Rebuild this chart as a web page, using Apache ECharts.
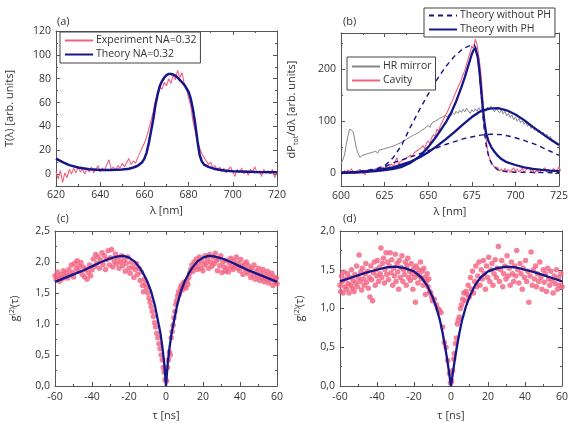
<!DOCTYPE html>
<html><head><meta charset="utf-8">
<script src="https://cdn.jsdelivr.net/npm/echarts@6/dist/echarts.min.js"></script>
<style>html,body{margin:0;padding:0;background:#fff}#c{width:571px;height:423px}</style>
</head><body><div id="c"></div>
<script>
// ---------- Panel (a): transmission ----------
const aExpStart = 620; // nm, 1 nm steps
const aExpValues = [2,-4,3,-7,1,-3,4,0,5,1,6,2,4,0,5,2,6,1,4,7,2,5,3,8,12,4,6,3,7,5,9,6,10,13,8,11,9,14,18,22,26,31,38,45,52,62,67,73,71,77,74,80,76,83,79,87,81,85,76,72,64,57,44,36,27,22,17,14,11,8,10,5,7,3,6,2,5,1,4,6,2,-2,4,1,5,0,3,-1,4,2,6,1,3,-2,4,1,3,0,4,-3,2];
const aTheory = [[620,13],[623,10],[626,7.5],[630,5.5],[635,4],[640,3.5],[645,3.4],[650,3.8],[653,4.5],[655,5.5],[657,7],[659,10],[660,13],[661,18],[662,26],[663,36],[664,46],[665,58],[666,67],[667,74],[668,78],[669,81],[670,83],[671,84],[672,84],[673,83.5],[674,82.5],[675,81],[676,79],[677,77],[678,75],[679,72],[680,69],[681,63],[682,54],[683,42],[684,28],[685,16],[686,10.5],[687,8],[689,6],[692,4.2],[696,3],[700,2.4],[710,1.8],[720,1.5]];
const aXTicks = [620,640,660,680,700,720], aXMinor = [630,650,670,690,710];
const aYTicks = [0,20,40,60,80,100,120], aYMinor = [-10,10,30,50,70,90,110];

// ---------- Panel (b): emission spectra ----------
const bStart = 600; // nm, 1 nm steps
const bMirror = [18,25,35,55,72,85,88,80,62,45,36,30,34,31,36,33,38,35,40,37,42,38,44,41,46,43,48,45,50,47,52,49,55,52,58,56,62,59,66,63,70,67,74,71,77,75,82,79,86,84,92,88,96,93,100,97,104,101,108,105,111,107,114,110,117,113,119,115,121,117,123,118,125,120,115,122,118,124,119,126,121,117,124,119,127,122,129,123,118,125,120,116,122,114,119,110,115,107,112,103,108,100,105,97,101,94,98,90,94,86,90,82,86,78,82,75,79,71,75,67,71,63,66,59,61,55];
const bCavity = [3,-2,5,1,6,2,8,3,-1,5,2,7,1,4,-3,6,2,8,3,5,9,4,10,6,12,7,14,9,13,18,12,20,30,16,22,19,26,23,30,27,35,31,39,36,44,41,49,53,47,58,62,57,68,74,70,85,80,92,98,105,112,118,126,134,140,150,157,165,172,180,190,198,210,222,232,245,240,258,248,225,200,160,110,70,45,30,22,16,12,9,10,4,8,2,9,3,7,1,6,10,3,8,2,5,9,0,6,3,11,2,7,-1,5,8,1,6,3,10,2,7,0,5,9,2,6,12,4];
const bWithPHnarrow = [[600,0.5],[610,1.5],[620,3.5],[625,5.5],[630,8],[635,12],[640,20],[645,32],[650,50],[655,72],[660,97],[663,115],[666,138],[669,165],[671,185],[673,207],[675,229],[676,237],[677,241],[677.8,238],[678.5,222],[679.5,193],[680.5,155],[681.4,122],[682.3,97],[683.2,77],[684.5,62],[686,51],[688,41],[690,33],[692,27],[695,21],[700,15.5],[705,11],[710,8],[715,6],[720,4.5],[725,3.5]];
const bWithPHbroad = [[600,0.5],[610,2],[620,5],[630,11],[640,22],[645,30],[650,40],[655,52],[660,65],[665,79],[670,94],[675,108],[680,119],[685,124],[690,125],[695,121],[700,113],[705,102],[710,89],[715,77],[720,65],[725,54]];
const bNoPHnarrow = [[600,1],[610,3],[620,8],[625,14],[630,30],[635,55],[640,90],[645,122],[650,152],[655,180],[660,205],[665,225],[670,240],[674,246],[676.5,247],[677.5,240],[678.5,222],[679.5,190],[680.5,148],[681.5,105],[682.5,72],[683.5,48],[685,28],[687,14],[690,6],[695,2.5],[700,1.5],[725,0.5]];
const bNoPHbroad = [[600,0.5],[610,2],[620,6],[625,12],[630,20],[640,31],[650,43],[660,55],[670,66],[680,73],[686,75],[692,74],[698,70],[704,64],[710,57],[715,50],[720,42],[725,34]];
const bXTicks = [600,625,650,675,700,725], bXMinor = [612.5,637.5,662.5,687.5,712.5];
const bYTicks = [0,100,200], bYMinor = [50,150,250];

// ---------- Panel (c): g2 cavity ----------
const cPoints = [[-60,1.78],[-59.3,1.72],[-58.7,1.84],[-58,1.75],[-57.5,1.69],[-56.8,1.8],[-56,1.73],[-55.4,1.86],[-54.7,1.77],[-54,1.82],[-53.3,1.74],[-52.5,1.88],[-52,1.79],[-51.2,1.95],[-50.5,1.83],[-50,1.76],[-49.3,1.98],[-48.6,1.9],[-48,2.02],[-47.4,1.85],[-46.8,1.93],[-46,1.99],[-45.3,1.8],[-44.7,1.92],[-44,1.76],[-43.4,1.88],[-42.6,1.72],[-42,1.83],[-41.3,1.95],[-40.7,1.78],[-40,1.87],[-39.3,2.05],[-38.6,1.93],[-38,2.12],[-37.4,1.98],[-36.7,2.08],[-36,1.9],[-35.3,2.03],[-34.6,2.15],[-34,1.96],[-33.3,2.1],[-32.7,1.88],[-32,2.04],[-31.3,2.18],[-30.6,1.95],[-30,2.07],[-29.4,2.2],[-28.7,1.92],[-28,2.01],[-27.3,2.13],[-26.7,1.97],[-26,2.06],[-25.4,1.9],[-24.7,2.0],[-24,2.1],[-23.4,1.94],[-22.7,2.03],[-22,1.85],[-21.4,1.98],[-20.7,2.08],[-20,1.9],[-19.4,1.82],[-18.7,2.0],[-18,1.92],[-17.4,1.75],[-16.7,1.88],[-16,1.97],[-15.4,1.8],[-14.7,1.9],[-14,1.7],[-13.4,1.84],[-12.7,1.62],[-12.2,1.52],[-11.6,1.72],[-11,1.65],[-10.4,1.58],[-9.8,1.5],[-9.2,1.42],[-8.6,1.35],[-8,1.28],[-7.4,1.2],[-6.8,1.12],[-6.2,1.02],[-5.6,0.95],[-5,0.85],[-4.4,0.78],[-3.8,0.68],[-3.2,0.6],[-2.6,0.5],[-2,0.42],[-1.5,0.3],[-1,0.22],[-0.5,0.1],
[0.3,0.08],[0.8,0.3],[1.3,0.42],[1.8,0.55],[2.3,0.5],[2.8,0.78],[3.3,0.88],[3.8,0.98],[4.3,1.1],[4.8,1.2],[5.3,1.32],[5.8,1.38],[6.3,1.45],[6.8,1.52],[7.3,1.48],[7.8,1.58],[8.3,1.62],[8.8,1.55],[9.3,1.66],[9.8,1.6],[10.3,1.68],[10.8,1.58],[11.3,1.7],[11.8,1.64],[12.3,1.75],[12.8,1.82],[13.4,1.88],[14,1.95],[14.6,1.85],[15.2,2.0],[15.8,1.92],[16.4,2.05],[17,1.88],[17.6,1.97],[18.2,2.08],[18.8,1.9],[19.4,2.02],[20,1.86],[20.6,1.95],[21.2,2.1],[21.8,1.98],[22.4,2.05],[23,1.9],[23.6,2.12],[24.2,2.0],[24.8,1.93],[25.4,2.08],[26,1.97],[26.6,2.14],[27.2,2.02],[27.8,1.86],[28.4,2.05],[29,1.94],[29.6,2.1],[30.2,1.83],[30.8,2.0],[31.4,1.92],[32,1.85],[32.6,2.03],[33.2,1.9],[33.8,1.84],[34.4,1.98],[35,2.06],[35.6,1.92],[36.2,1.88],[36.8,2.02],[37.4,1.95],[38,2.08],[38.6,1.9],[39.2,1.98],[39.8,1.86],[40.4,2.04],[41,1.93],[41.6,1.8],[42.2,1.96],[42.8,1.88],[43.4,2.0],[44,1.82],[44.6,1.94],[45.2,1.86],[45.8,1.75],[46.4,1.9],[47,1.8],[47.6,1.95],[48.2,1.72],[48.8,1.85],[49.4,1.78],[50,1.9],[50.6,1.7],[51.2,1.82],[51.8,1.75],[52.4,1.88],[53,1.68],[53.6,1.8],[54.2,1.73],[54.8,1.85],[55.4,1.66],[56,1.78],[56.6,1.71],[57.2,1.82],[57.8,1.62],[58.4,1.76],[59,1.68],[59.6,1.74],[60,1.65]];
const cTheory = [[-60,1.68],[-55,1.74],[-50,1.8],[-45,1.86],[-40,1.93],[-35,2.0],[-30,2.06],[-26,2.09],[-23,2.1],[-20,2.07],[-17,2.01],[-14,1.9],[-12,1.8],[-10,1.68],[-8,1.52],[-6,1.3],[-5,1.15],[-4,1.0],[-3,0.85],[-2,0.64],[-1,0.38],[-0.5,0.2],[0,0],[0.5,0.2],[1,0.38],[2,0.64],[3,0.85],[4,1.0],[5,1.15],[6,1.3],[8,1.52],[10,1.68],[12,1.8],[14,1.9],[17,2.01],[20,2.07],[23,2.1],[26,2.09],[30,2.06],[35,2.0],[40,1.93],[45,1.86],[50,1.8],[55,1.74],[60,1.68]];
const cXTicks = [-60,-40,-20,0,20,40,60], cXMinor = [-50,-30,-10,10,30,50];
const cYTicks = [0,0.5,1,1.5,2,2.5], cYMinor = [0.25,0.75,1.25,1.75,2.25];

// ---------- Panel (d): g2 second sample ----------
const dPoints = [[-60,1.3],[-59.6,1.22],[-59.2,1.42],[-58.8,1.35],[-58.3,1.2],[-57.9,1.47],[-57.4,1.28],[-57,1.38],[-56.5,1.25],[-56,1.45],[-55.6,1.32],[-55.1,1.2],[-54.7,1.4],[-54.2,1.3],[-53.8,1.5],[-53.3,1.26],[-52.9,1.36],[-52.4,1.22],[-52,1.44],[-51.5,1.33],[-51,1.55],[-50.6,1.28],[-50.1,1.4],[-49.7,1.69],[-49.2,1.35],[-48.8,1.47],[-48.3,1.24],[-47.9,1.52],[-47.4,1.38],[-47,1.3],[-46.5,1.45],[-46,1.58],[-45.6,1.34],[-45.1,1.48],[-44.7,1.26],[-44.2,1.4],[-43.8,1.15],[-43.3,1.55],[-42.9,1.37],[-42.4,1.1],[-42,1.46],[-41.5,1.6],[-41,1.3],[-40.6,1.5],[-40.1,1.42],[-39.7,1.62],[-39.2,1.35],[-38.8,1.53],[-38.3,1.45],[-37.9,1.78],[-37.4,1.4],[-37,1.58],[-36.5,1.65],[-36,1.33],[-35.6,1.5],[-35.1,1.72],[-34.7,1.44],[-34.2,1.6],[-33.8,1.37],[-33.3,1.55],[-32.9,1.72],[-32.4,1.46],[-32,1.63],[-31.5,1.3],[-31,1.52],[-30.6,1.42],[-30.1,1.7],[-29.7,1.35],[-29.2,1.58],[-28.8,1.47],[-28.3,1.25],[-27.9,1.62],[-27.4,1.4],[-27,1.53],[-26.5,1.68],[-26,1.35],[-25.6,1.5],[-25.1,1.44],[-24.7,1.6],[-24.2,1.3],[-23.8,1.55],[-23.3,1.65],[-22.9,1.4],[-22.4,1.48],[-22,1.36],[-21.5,1.58],[-21,1.45],[-20.6,1.25],[-20.1,1.52],[-19.7,1.4],[-19.2,1.08],[-18.8,1.55],[-18.3,1.45],[-17.9,1.33],[-17.4,1.5],[-17,1.42],[-16.5,1.6],[-16,1.38],[-15.6,1.48],[-15.1,1.3],[-14.7,1.52],[-14.2,1.4],[-13.8,1.18],[-13.3,1.35],[-12.9,1.45],[-12.4,1.28],[-12,1.38],[-11.5,1.22],[-11,1.2],[-10.4,1.15],[-10,1.1],[-9,1.12],[-8,1.05],[-7.2,1.0],[-6.3,0.98],[-5.4,0.95],[-4.5,0.76],[-3.6,0.56],[-2.7,0.5],[-1.8,0.33],[-0.9,0.16],[-0.3,0.04],
[0.3,0.06],[0.9,0.2],[1.5,0.35],[1.8,0.42],[2.4,0.55],[2.9,0.62],[3.4,0.8],[3.9,0.85],[4.5,0.89],[5.1,1.0],[5.7,1.05],[6.3,1.12],[6.9,1.2],[7.5,1.1],[8.1,1.22],[8.7,1.18],[9.3,1.3],[9.9,1.15],[10.5,1.4],[11,1.25],[11.6,1.48],[12.2,1.2],[12.8,1.35],[13.4,1.55],[14,1.28],[14.5,1.42],[15.1,1.6],[15.7,1.3],[16.3,1.5],[16.9,1.38],[17.5,1.62],[18,1.45],[18.6,1.25],[19.2,1.55],[19.8,1.4],[20.4,1.66],[21,1.35],[21.5,1.5],[22.1,1.58],[22.7,1.3],[23.3,1.45],[23.9,1.63],[24.5,1.4],[25,1.52],[25.6,1.8],[26.2,1.35],[26.8,1.5],[27.4,1.62],[28,1.28],[28.5,1.45],[29.1,1.55],[29.7,1.38],[30.3,1.68],[30.9,1.42],[31.5,1.52],[32,1.3],[32.6,1.6],[33.2,1.45],[33.8,1.35],[34.4,1.55],[35,1.42],[35.5,1.75],[36.1,1.5],[36.7,1.33],[37.3,1.58],[37.9,1.45],[38.5,1.25],[39.1,1.52],[39.7,1.4],[40.3,1.62],[40.9,1.35],[41.5,1.48],[42.1,1.08],[42.7,1.42],[43.3,1.73],[43.9,1.3],[44.5,1.5],[45.1,1.38],[45.7,1.55],[46.2,1.28],[46.8,1.45],[47.4,1.35],[48,1.6],[48.6,1.4],[49.2,1.25],[49.8,1.5],[50.4,1.34],[51,1.45],[51.6,1.22],[52.2,1.52],[52.8,1.38],[53.4,1.3],[54,1.48],[54.6,1.36],[55.2,1.2],[55.8,1.42],[56.4,1.32],[57,1.5],[57.6,1.25],[58.2,1.4],[58.8,1.3],[59.4,1.45],[60,1.28]];
const dTheory = [[-60,1.35],[-55,1.39],[-50,1.43],[-45,1.47],[-40,1.5],[-35,1.53],[-30,1.54],[-25,1.52],[-20,1.48],[-16,1.4],[-13,1.3],[-10,1.15],[-8,1.02],[-6,0.85],[-4.5,0.68],[-3,0.48],[-2,0.33],[-1,0.17],[-0.5,0.08],[0,0],[0.5,0.08],[1,0.17],[2,0.33],[3,0.48],[4.5,0.68],[6,0.85],[8,1.02],[10,1.15],[13,1.3],[16,1.4],[20,1.48],[25,1.52],[30,1.54],[35,1.53],[40,1.5],[45,1.47],[50,1.43],[55,1.39],[60,1.35]];
const dXTicks = cXTicks, dXMinor = cXMinor;
const dYTicks = [0,0.5,1,1.5,2], dYMinor = [0.25,0.75,1.25,1.75];

// ---------- styling ----------
const FONT = 'Open Sans';
const TXT = '#333';
const FRAME = '#555';
const PINK = '#f2607f';
const NAVY = '#15168a';
const GRAY = '#858585';

const grids = [
  {left:56, top:31, width:221, height:155},
  {left:341, top:33, width:221, height:153},
  {left:55, top:231, width:222, height:155},
  {left:340, top:231, width:223, height:155}
];

const xAxes = [], yAxes = [];
function addAxes(list, dim, gi, cfg) {
  const mainPos = dim === 'x' ? 'bottom' : 'left';
  const mirPos = dim === 'x' ? 'top' : 'right';
  const base = {type:'value', gridIndex:gi, min:cfg.min, max:cfg.max, splitLine:{show:false}};
  const mainIdx = list.length;
  const main = Object.assign({}, base, {
    position: mainPos,
    axisLine:{show:true, onZero:false, lineStyle:{color:FRAME, width:1}},
    axisTick:{show:true, inside:true, length:4, customValues:cfg.majors, lineStyle:{color:FRAME}},
    axisLabel:{show:true, customValues:cfg.majors, formatter:cfg.fmt, margin:cfg.margin,
      fontSize:10.5, color:TXT, fontFamily:FONT},
    name: cfg.name, nameLocation:'middle', nameGap: cfg.nameGap,
    nameRotate: dim === 'y' ? 90 : 0,
    nameTextStyle: Object.assign({fontSize:11, color:TXT, fontFamily:FONT}, cfg.nameStyle || {})
  });
  list.push(main);
  list.push(Object.assign({}, base, {
    position: mirPos,
    axisLine:{show:true, onZero:false, lineStyle:{color:FRAME, width:1}},
    axisTick:{show:true, inside:true, length:4, customValues:cfg.majors, lineStyle:{color:FRAME}},
    axisLabel:{show:false}
  }));
  [mainPos, mirPos].forEach(p => list.push(Object.assign({}, base, {
    position: p,
    axisLine:{show:false, onZero:false},
    axisTick:{show:true, inside:true, length:2, customValues:cfg.minors, lineStyle:{color:FRAME}},
    axisLabel:{show:false}
  })));
  return mainIdx;
}
const comma = v => v.toFixed(1).replace('.', ',');

const ax = [], ay = [];
ax[0] = addAxes(xAxes,'x',0,{min:620,max:720,majors:aXTicks,minors:aXMinor,margin:4,name:'λ [nm]',nameGap:19});
ay[0] = addAxes(yAxes,'y',0,{min:-10,max:120,majors:aYTicks,minors:aYMinor,margin:5,name:'T(λ) [arb. units]',nameGap:41});
ax[1] = addAxes(xAxes,'x',1,{min:600,max:725,majors:bXTicks,minors:bXMinor,margin:5,name:'λ [nm]',nameGap:20});
ay[1] = addAxes(yAxes,'y',1,{min:-25,max:270,majors:bYTicks,minors:bYMinor,margin:5,
  name:'{n|dP}{s|tot}{n|/dλ [arb. units]}',nameGap:42,
  nameStyle:{rich:{n:{fontSize:11,color:TXT,fontFamily:FONT,lineHeight:14},
                    s:{fontSize:7,color:TXT,fontFamily:FONT,verticalAlign:'bottom'}}}});
ax[2] = addAxes(xAxes,'x',2,{min:-60,max:60,majors:cXTicks,minors:cXMinor,margin:6,name:'τ [ns]',nameGap:24});
ay[2] = addAxes(yAxes,'y',2,{min:0,max:2.5,majors:cYTicks,minors:cYMinor,margin:5,fmt:comma,
  name:'{n|g}{s|(2)}{n|(τ)}',nameGap:33,
  nameStyle:{rich:{n:{fontSize:11,color:TXT,fontFamily:FONT,lineHeight:14},
                    s:{fontSize:7,color:TXT,fontFamily:FONT,verticalAlign:'top'}}}});
ax[3] = addAxes(xAxes,'x',3,{min:-60,max:60,majors:dXTicks,minors:dXMinor,margin:6,name:'τ [ns]',nameGap:24});
ay[3] = addAxes(yAxes,'y',3,{min:0,max:2.0,majors:dYTicks,minors:dYMinor,margin:5,fmt:comma,
  name:'{n|g}{s|(2)}{n|(τ)}',nameGap:33,
  nameStyle:{rich:{n:{fontSize:11,color:TXT,fontFamily:FONT,lineHeight:14},
                    s:{fontSize:7,color:TXT,fontFamily:FONT,verticalAlign:'top'}}}});

const seq = (start, vals) => vals.map((v, i) => [start + i, v]);
function line(name, g, data, color, width, type, z) {
  return {type:'line', name, xAxisIndex:ax[g], yAxisIndex:ay[g], data, symbol:'none', showSymbol:false,
    lineStyle:{color, width, type: type || 'solid'}, itemStyle:{color}, z: z || 2, animation:false, silent:true};
}
const series = [
  line('Experiment NA=0.32', 0, seq(aExpStart, aExpValues), PINK, 1.1),
  line('Theory NA=0.32', 0, aTheory, NAVY, 2.5, 'solid', 3),
  line('HR mirror', 1, seq(bStart, bMirror), GRAY, 1),
  line('Cavity', 1, seq(bStart, bCavity), PINK, 1.1),
  line('Theory without PH', 1, bNoPHnarrow, NAVY, 1.4, [5,4], 3),
  line('Theory without PH', 1, bNoPHbroad, NAVY, 1.4, [5,4], 3),
  line('Theory with PH', 1, bWithPHnarrow, NAVY, 2.3, 'solid', 4),
  line('Theory with PH', 1, bWithPHbroad, NAVY, 2.3, 'solid', 4),
  {type:'scatter', name:'g2 c', xAxisIndex:ax[2], yAxisIndex:ay[2], data:cPoints, symbolSize:5.5,
    itemStyle:{color:PINK}, animation:false, silent:true},
  line('fit c', 2, cTheory, NAVY, 2.3, 'solid', 4),
  {type:'scatter', name:'g2 d', xAxisIndex:ax[3], yAxisIndex:ay[3], data:dPoints, symbolSize:5.5,
    itemStyle:{color:PINK}, animation:false, silent:true},
  line('fit d', 3, dTheory, NAVY, 2.3, 'solid', 4)
];

const legBase = {orient:'vertical', itemWidth:28, itemHeight:12, itemGap:3, borderColor:'#444', borderWidth:1,
  borderRadius:0, backgroundColor:'#fff', selectedMode:false,
  itemStyle:{color:'rgba(0,0,0,0)', borderWidth:0, opacity:0},
  textStyle:{fontSize:10.5, color:TXT, fontFamily:FONT, padding:[0,0,0,-2]}};
const legends = [
  Object.assign({}, legBase, {data:['Experiment NA=0.32','Theory NA=0.32'], left:60, top:32, padding:[3,4,3,4]}),
  Object.assign({}, legBase, {data:['Theory without PH','Theory with PH'], left:424, top:8, padding:[2,4,2,4]}),
  Object.assign({}, legBase, {data:['HR mirror','Cavity'], left:347, top:57, padding:[4,4,4,4]})
];

const label = (t, x, y) => ({type:'text', left:x, top:y, style:{text:t, fill:TXT, font:'11px "Open Sans"'}});
const option = {
  animation:false,
  grid: grids,
  xAxis: xAxes, yAxis: yAxes,
  legend: legends,
  series,
  graphic: [label('(a)',57,16), label('(b)',343,16), label('(c)',57,213), label('(d)',343,213)]
};
const chart = echarts.init(document.getElementById('c'), null, {renderer:'canvas'});
chart.setOption(option);
</script></body></html>
